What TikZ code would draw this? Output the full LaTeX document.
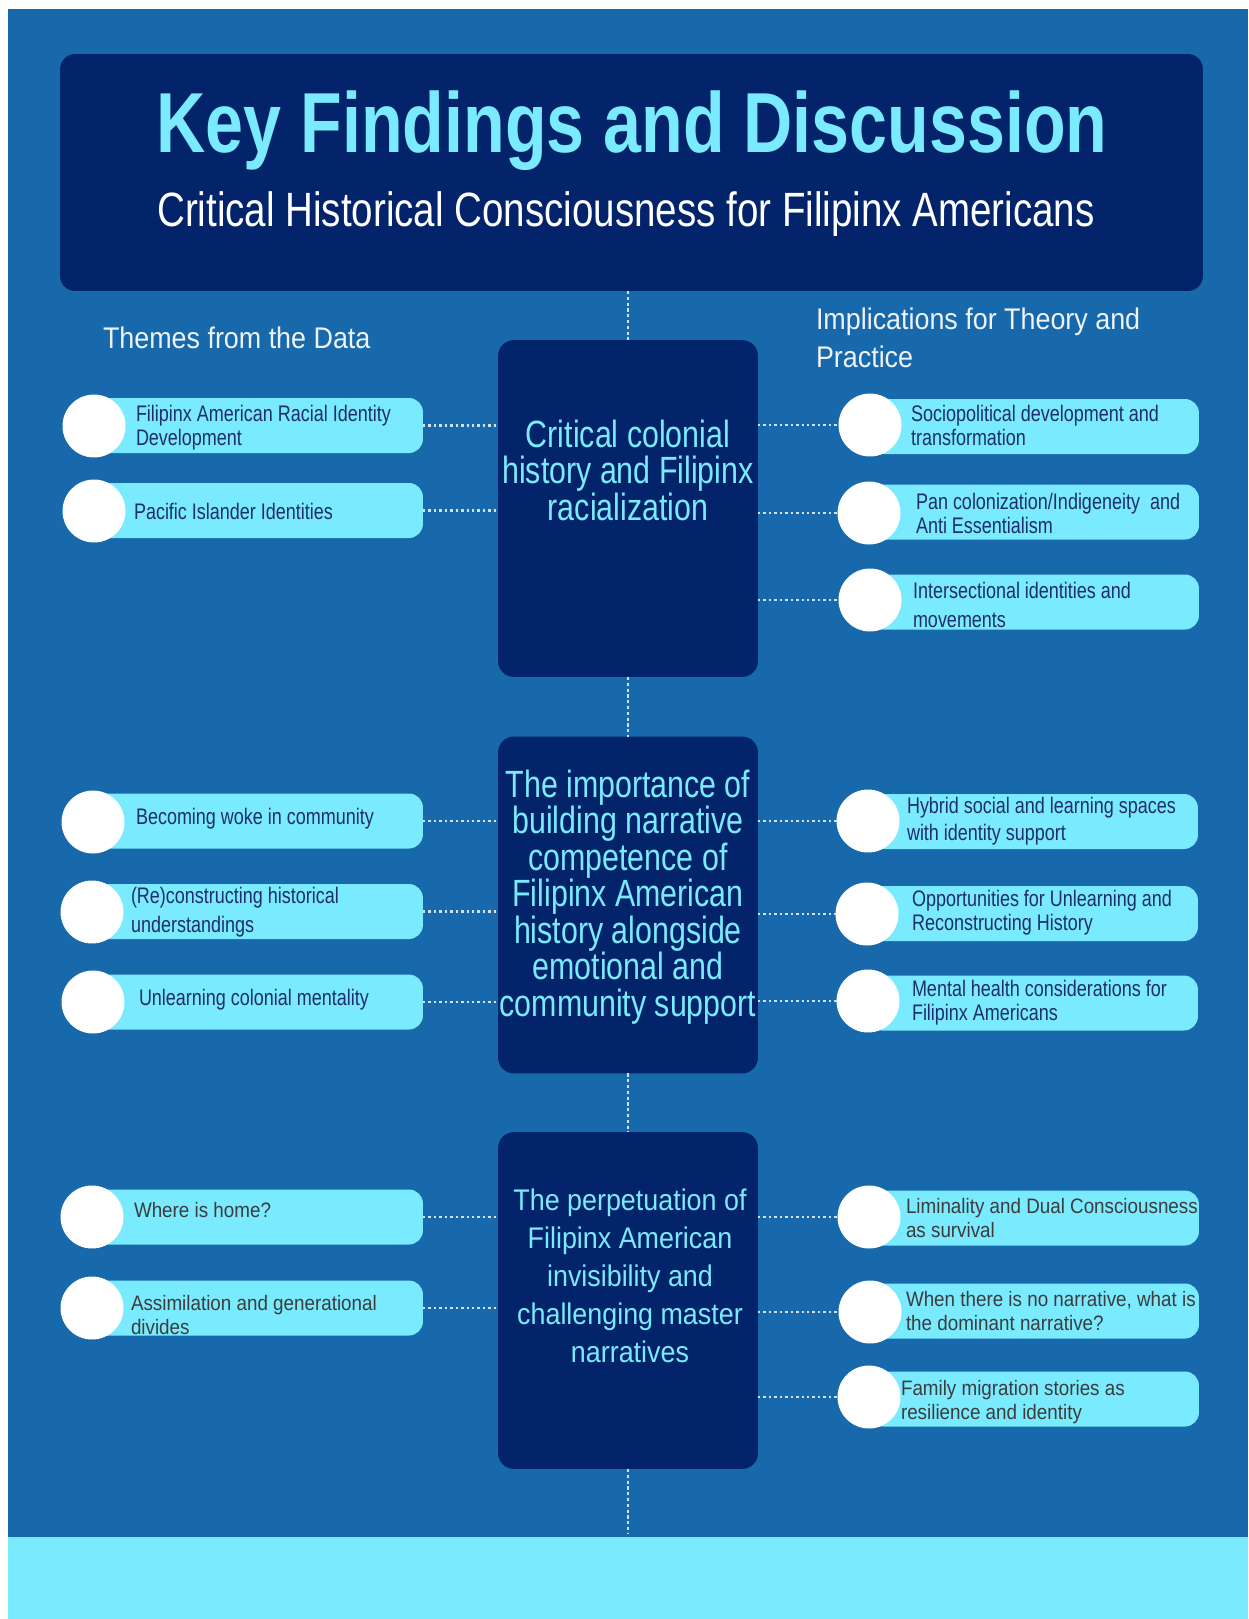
\documentclass[tikz,border=0pt]{standalone}
\usepackage{fontspec}
\setmainfont{Liberation Sans}
\newfontfamily\narrowfont{Liberation Sans}[FakeStretch=0.8]
\newfontfamily\headfont{Liberation Sans}[FakeStretch=0.9]
\usetikzlibrary{positioning}
\definecolor{PageBlue}{HTML}{1868AC}
\definecolor{DeepNavy}{HTML}{03236A}
\definecolor{SkyCyan}{HTML}{7AEAFE}
\definecolor{PillInk}{HTML}{1E2E6C}
\definecolor{GreyInk}{HTML}{3C3C3C}
\definecolor{DotLine}{HTML}{D2E4F4}

\begin{document}
\begin{tikzpicture}[
    x=0.02cm, y=-0.02cm,
    every node/.style={inner sep=0pt, outer sep=0pt},
    headbox/.style={fill=DeepNavy, rounded corners=0.3cm, minimum width=22.86cm, minimum height=4.74cm},
    themebox/.style={fill=DeepNavy, rounded corners=0.32cm, minimum width=5.2cm, minimum height=6.74cm},
    themetext/.style={align=center, text=SkyCyan, font=\narrowfont\fontsize{21.6}{20.8}\selectfont},
    pill/.style={fill=SkyCyan, rounded corners=0.28cm, anchor=west, minimum width=6.6cm, minimum height=1.1cm},
    disc/.style={circle, fill=white, minimum size=1.26cm},
    pilltext/.style={anchor=west, align=left, text=PillInk, font=\narrowfont\fontsize{12.8}{13.7}\selectfont},
    greytext/.style={anchor=west, align=left, text=GreyInk, font=\headfont\fontsize{11.9}{13.7}\selectfont},
    link/.style={DotLine, line width=1.5pt, dash pattern=on 1.4pt off 1.7pt},
    spine/.style={DotLine, line width=1.4pt, dash pattern=on 1.8pt off 1.5pt}
]
% page
\useasboundingbox (0,0) rectangle (1248,1619);
\fill[white] (0,0) rectangle (1248,1619);
\fill[PageBlue] (8,9) rectangle (1248,1537);
\fill[SkyCyan] (8,1537) rectangle (1248,1619);

% title block
\node[headbox] (title) at (631.5,172.5) {};
\node[text=SkyCyan, font=\narrowfont\bfseries\fontsize{48.5}{49}\selectfont] (maintitle) at (632,131) {Key Findings and Discussion};
\node[text=white, font=\narrowfont\fontsize{27.4}{28}\selectfont] (subtitle) at (626,214) {Critical Historical Consciousness for Filipinx Americans};

% column heads
\node[anchor=west, text=white!92!PageBlue, font=\headfont\fontsize{17}{21.6}\selectfont] (lefthead) at (103,338) {Themes from the Data};
\node[anchor=west, align=left, text=white!92!PageBlue, font=\headfont\fontsize{17}{21.6}\selectfont] (righthead) at (816,338) {Implications for Theory and\\Practice};

% central themes
\node[themebox] (b1) at (628,508.5) {};
\node[themebox] (b2) at (628,905) {};
\node[themebox] (b3) at (628,1300.5) {};
\node[themetext] (b1t) at (628,470) {Critical colonial\\history and Filipinx\\racialization};
\node[themetext] (b2t) at (628,897) {The importance of\\building narrative\\competence of\\Filipinx American\\history alongside\\emotional and\\community support};
\node[themetext, font=\headfont\fontsize{17}{21.6}\selectfont] (b3t) at (630,1276) {The perpetuation of\\Filipinx American\\invisibility and\\challenging master\\narratives};

\coordinate (spineend) at (628,1533);
\draw[spine] (title.south -| b1.north) -- (b1.north);
\draw[spine] (b1.south) -- (b2.north);
\draw[spine] (b2.south) -- (b3.north);
\draw[spine] (b3.south) -- (spineend);

% themes from the data
\node[pill] (l1) at (93,425.5) {};
\node[pill] (l2) at (93,510.5) {};
\node[pill] (l3) at (93,821) {};
\node[pill] (l4) at (93,911.5) {};
\node[pill] (l5) at (93,1002) {};
\node[pill] (l6) at (93,1217) {};
\node[pill] (l7) at (93,1308) {};
\node[disc] (l1c) at (94,426) {};
\node[disc] (l2c) at (94,511) {};
\node[disc] (l3c) at (93,822) {};
\node[disc] (l4c) at (92,912) {};
\node[disc] (l5c) at (93,1002) {};
\node[disc] (l6c) at (92,1217) {};
\node[disc] (l7c) at (92,1308) {};
\node[pilltext] (l1t) at (136,428) {Filipinx American Racial Identity\\Development};
\node[pilltext] (l2t) at (134,511) {Pacific Islander Identities};
\node[pilltext] (l3t) at (136,819) {Becoming woke in community};
\node[pilltext, font=\narrowfont\fontsize{12.8}{16.5}\selectfont] (l4t) at (131,912) {(Re)constructing historical\\understandings};
\node[pilltext] (l5t) at (139,1000) {Unlearning colonial mentality};
\node[greytext] (l6t) at (134,1210) {Where is home?};
\node[greytext] (l7t) at (131,1315) {Assimilation and generational\\divides};

% implications
\node[pill] (r1) at (869,426.5) {};
\node[pill] (r2) at (869,512) {};
\node[pill] (r3) at (869,602) {};
\node[pill] (r4) at (868,821.5) {};
\node[pill] (r5) at (868,913.5) {};
\node[pill] (r6) at (868,1003) {};
\node[pill] (r7) at (869,1218) {};
\node[pill] (r8) at (869,1311) {};
\node[pill] (r9) at (869,1399) {};
\node[disc] (r1c) at (870,425) {};
\node[disc] (r2c) at (869,513) {};
\node[disc] (r3c) at (870,600) {};
\node[disc] (r4c) at (868,821) {};
\node[disc] (r5c) at (867,914) {};
\node[disc] (r6c) at (868,1001) {};
\node[disc] (r7c) at (869,1217) {};
\node[disc] (r8c) at (870,1312) {};
\node[disc] (r9c) at (869,1397) {};
\node[pilltext] (r1t) at (911,425) {Sociopolitical development and\\transformation};
\node[pilltext] (r2t) at (916,513) {Pan colonization/Indigeneity~ and\\Anti Essentialism};
\node[pilltext, font=\narrowfont\fontsize{12.8}{17}\selectfont] (r3t) at (913,605) {Intersectional identities and\\movements};
\node[pilltext, font=\narrowfont\fontsize{12.8}{15.4}\selectfont] (r4t) at (907,821) {Hybrid social and learning spaces\\with identity support};
\node[pilltext] (r5t) at (912,913) {Opportunities for Unlearning and\\Reconstructing History};
\node[pilltext] (r6t) at (912,1003) {Mental health considerations for\\Filipinx Americans};
\node[greytext] (r7t) at (906,1218) {Liminality and Dual Consciousness\\as survival};
\node[greytext] (r8t) at (906,1311) {When there is no narrative, what is\\the dominant narrative?};
\node[greytext] (r9t) at (901,1402) {Family migration stories as\\resilience and identity};

% dotted links
\draw[link] (l1.east) -- (l1.east -| b1.west);
\draw[link] (l2.east) -- (l2.east -| b1.west);
\draw[link] (l3.east) -- (l3.east -| b2.west);
\draw[link] (l4.east) -- (l4.east -| b2.west);
\draw[link] (l5.east) -- (l5.east -| b2.west);
\draw[link] (l6.east) -- (l6.east -| b3.west);
\draw[link] (l7.east) -- (l7.east -| b3.west);
\draw[link] (b1.east |- r1c.west) -- (r1c.west);
\draw[link] (b1.east |- r2c.west) -- (r2c.west);
\draw[link] (b1.east |- r3c.west) -- (r3c.west);
\draw[link] (b2.east |- r4c.west) -- (r4c.west);
\draw[link] (b2.east |- r5c.west) -- (r5c.west);
\draw[link] (b2.east |- r6c.west) -- (r6c.west);
\draw[link] (b3.east |- r7c.west) -- (r7c.west);
\draw[link] (b3.east |- r8c.west) -- (r8c.west);
\draw[link] (b3.east |- r9c.west) -- (r9c.west);
\end{tikzpicture}
\end{document}
